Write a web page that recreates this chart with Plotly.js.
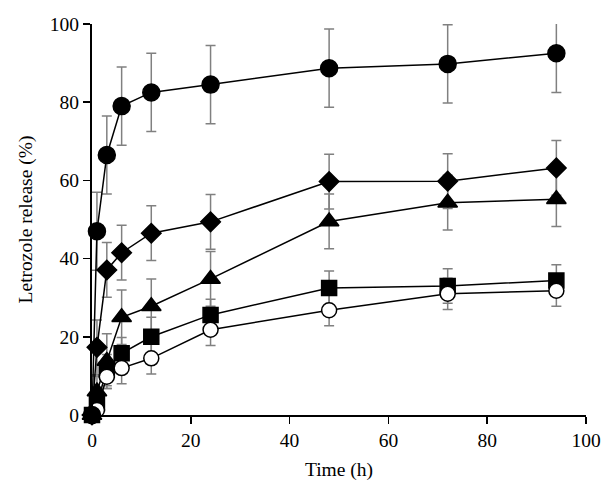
<!DOCTYPE html>
<html>
<head>
<meta charset="utf-8">
<script src="https://cdn.plot.ly/plotly-3.0.1.min.js"></script>
<style>
  body { margin: 0; background: #fff; }
  #chart { width: 615px; height: 494px; }
</style>
</head>
<body>
<div id="chart"></div>
<script>
// release time points (h)
var time = [0, 1, 3, 6, 12, 24, 48, 72, 94];

// release (%) per formulation
var filledCircle = [0, 47, 66.5, 79, 82.5, 84.5, 88.7, 89.8, 92.5];
var filledCircleErr = [0, 10, 10, 10, 10, 10, 10, 10, 10];

var diamond = [0, 17.3, 37.1, 41.5, 46.5, 49.4, 59.7, 59.8, 63.2];
var diamondErr = [0, 7, 7, 7, 7, 7, 7, 7, 7];

var triangle = [0, 6, 13.8, 25, 27.8, 34.8, 49.5, 54.3, 55.2];
var triangleErr = [0, 4, 7, 7, 7, 7, 7, 7, 7];

var square = [0, 3, 11.5, 15.8, 20, 25.6, 32.5, 33, 34.4];
var squareErr = [0, 2, 4, 4, 5, 4, 4.3, 4.4, 4];

var openCircle = [0, 1.3, 9.8, 12, 14.5, 21.8, 26.8, 31, 31.8];
var openCircleErr = [0, 1, 3, 4, 4, 4, 4, 4, 4];

var FONT = "Liberation Serif, Times New Roman, serif";

// error bars go in their own traces so every marker sits on top of them
function errTrace(yvals, err) {
    return {
        x: time,
        y: yvals,
        type: "scatter",
        mode: "markers",
        cliponaxis: false,
        marker: {size: 1, color: "rgba(0,0,0,0)"},
        error_y: {
            type: "data",
            array: err,
            visible: true,
            color: "#808080",
            thickness: 1.5,
            width: 5
        },
        showlegend: false
    };
}

function series(yvals, symbol, size, fill) {
    return {
        x: time,
        y: yvals,
        type: "scatter",
        mode: "lines+markers",
        cliponaxis: false,
        line: {color: "#000", width: 1.5},
        marker: {
            symbol: symbol,
            size: size,
            color: fill,
            line: {color: "#000", width: 1.5}
        },
        showlegend: false
    };
}

var data = [
    errTrace(square, squareErr),
    errTrace(triangle, triangleErr),
    errTrace(diamond, diamondErr),
    errTrace(openCircle, openCircleErr),
    errTrace(filledCircle, filledCircleErr),
    series(square, "square", 15, "#000"),
    series(triangle, "triangle-up", 17, "#000"),
    series(diamond, "diamond", 15, "#000"),
    series(openCircle, "circle", 15, "#fff"),
    series(filledCircle, "circle", 17, "#000")
];

var layout = {
    width: 615,
    height: 494,
    margin: {l: 92, r: 29, t: 24, b: 79},
    paper_bgcolor: "#fff",
    plot_bgcolor: "#fff",
    font: {family: FONT, size: 19, color: "#000"},
    xaxis: {
        range: [0, 100],
        tickvals: [0, 20, 40, 60, 80, 100],
        showgrid: false,
        zeroline: false,
        showline: true,
        linecolor: "#000",
        linewidth: 2,
        ticks: "outside",
        ticklen: 7,
        tickwidth: 1.5,
        tickcolor: "#000",
        tickfont: {family: FONT, size: 19.5},
        title: {text: "Time (h)", font: {family: FONT, size: 19.5}, standoff: 12}
    },
    yaxis: {
        range: [0, 100],
        tickvals: [0, 20, 40, 60, 80, 100],
        showgrid: false,
        zeroline: false,
        showline: true,
        linecolor: "#000",
        linewidth: 2,
        ticks: "outside",
        ticklen: 7,
        tickwidth: 1.5,
        tickcolor: "#000",
        tickfont: {family: FONT, size: 19.5},
        title: {text: "Letrozole release (%)", font: {family: FONT, size: 19.5}, standoff: 12}
    }
};

Plotly.newPlot("chart", data, layout, {displayModeBar: false, staticPlot: true});
</script>
</body>
</html>
